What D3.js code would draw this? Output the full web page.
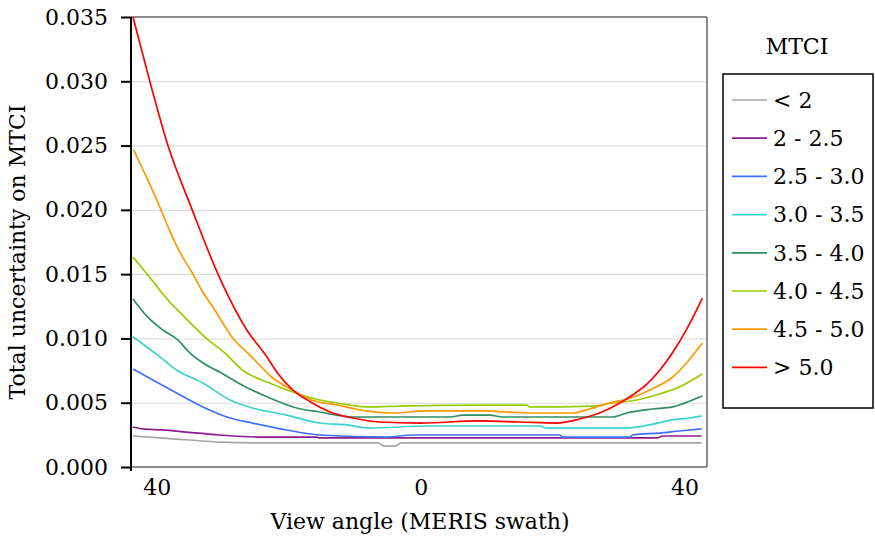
<!DOCTYPE html>
<html>
<head>
<script src="https://d3js.org/d3.v7.min.js"></script>
<title>MTCI uncertainty vs view angle</title>
<style>
	body { margin:0; background:white; }
	svg text { font-family: "DejaVu Serif", serif; fill:#000; }
	.grid line { stroke:#d9d9d9; stroke-width:1; }
	.grid path { display:none; }
</style>
</head>
<body>
<div id="chart"></div>
<script>
// legend labels and colours
var classes = ["< 2", "2 - 2.5", "2.5 - 3.0", "3.0 - 3.5", "3.5 - 4.0", "4.0 - 4.5", "4.5 - 5.0", "> 5.0"];
var colors  = ["#a6a6a6", "#8e1b8e", "#3f6fff", "#3fd0d0", "#2f8f62", "#99cc00", "#ff9a00", "#ff0000"];

// [view angle (deg, negative = left of swath), uncertainty]
var lt2 = [[-43.6,0.00241],[-39.5,0.00226],[-35.0,0.00210],[-30.5,0.00194],[-23.3,0.00187],[-6.5,0.00187],[-5.5,0.00163],[-3.9,0.00163],[-2.9,0.00187],[42.6,0.00187]];
var c2_25 = [[-43.6,0.00311],[-42.1,0.00296],[-39.1,0.00288],[-35.5,0.00272],[-30.5,0.00249],[-24.4,0.00233],[-15.8,0.00233],[-15.3,0.00226],[35.8,0.00226],[36.7,0.00241],[42.6,0.00241]];
var c25_30 = [[-43.6,0.00762],[-40.6,0.00677],[-37.0,0.00576],[-33.0,0.00467],[-28.9,0.00381],[-25.5,0.00342],[-20.3,0.00288],[-15.3,0.00249],[-5.2,0.00233],[-1.2,0.00249],[21.1,0.00249],[21.5,0.00233],[31.7,0.00233],[32.1,0.00249],[36.2,0.00264],[39.2,0.00280],[42.6,0.00296]];
var c30_35 = [[-43.6,0.01011],[-39.5,0.00856],[-37.0,0.00754],[-33.0,0.00653],[-28.9,0.00521],[-25.5,0.00459],[-20.3,0.00404],[-15.3,0.00342],[-11.2,0.00327],[-7.7,0.00303],[0.9,0.00319],[18.0,0.00319],[19.1,0.00303],[31.2,0.00303],[35.2,0.00334],[38.2,0.00366],[40.8,0.00381],[42.6,0.00397]];
var c35_40 = [[-43.6,0.01307],[-41.4,0.01167],[-39.1,0.01066],[-36.8,0.00988],[-35.0,0.00887],[-33.0,0.00809],[-30.2,0.00731],[-27.1,0.00638],[-23.2,0.00544],[-18.8,0.00459],[-15.3,0.00428],[-10.3,0.00389],[4.5,0.00389],[6.4,0.00404],[10.5,0.00404],[12.4,0.00389],[29.1,0.00389],[31.2,0.00420],[35.2,0.00451],[38.2,0.00467],[41.2,0.00521],[42.7,0.00552]];
var c40_45 = [[-43.6,0.01633],[-41.1,0.01478],[-38.3,0.01299],[-35.8,0.01167],[-32.7,0.01011],[-29.7,0.00887],[-27.0,0.00754],[-22.9,0.00653],[-19.4,0.00583],[-15.3,0.00521],[-12.7,0.00498],[-7.7,0.00467],[-3.2,0.00474],[8.9,0.00482],[16.1,0.00482],[16.5,0.00467],[26.1,0.00474],[29.1,0.00498],[32.7,0.00521],[36.2,0.00568],[39.2,0.00622],[42.7,0.00723]];
var c45_50 = [[-43.5,0.02466],[-40.0,0.02077],[-38.3,0.01870],[-36.8,0.01700],[-34.7,0.01517],[-33.2,0.01377],[-31.2,0.01221],[-28.6,0.01011],[-25.6,0.00856],[-22.6,0.00700],[-19.5,0.00599],[-16.5,0.00521],[-12.7,0.00482],[-8.2,0.00436],[-4.2,0.00420],[0.9,0.00436],[8.9,0.00436],[16.5,0.00420],[23.0,0.00420],[25.6,0.00451],[28.6,0.00498],[32.1,0.00540],[35.2,0.00610],[38.2,0.00700],[40.3,0.00809],[42.7,0.00964]];
var gt5 = [[-43.6,0.0350],[-41.1,0.0301],[-38.3,0.0250],[-34.7,0.0201],[-30.8,0.0151],[-26.4,0.0107],[-23.3,0.00856],[-21.7,0.00731],[-19.4,0.00600],[-16.8,0.00510],[-13.3,0.00420],[-10.3,0.00381],[-6.2,0.00350],[0,0.00342],[8.9,0.00358],[15.0,0.00350],[20.6,0.00342],[24.1,0.00373],[27.1,0.00420],[30.2,0.00498],[32.1,0.00560],[34.2,0.00640],[36.2,0.00750],[38.2,0.00890],[40.3,0.01070],[42.7,0.01314]];
var series = [lt2, c2_25, c25_30, c30_35, c35_40, c40_45, c45_50, gt5];

var yTicks = [0, 0.005, 0.010, 0.015, 0.020, 0.025, 0.030, 0.035];
var xTicks = [-40, 0, 40];

var W = 875, H = 540;
var pLeft = 131, pRight = 707, pTop = 17, pBottom = 467;
var fs = 22;

var svg = d3.select("#chart").append("svg")
	.attr("width", W)
	.attr("height", H);

var x = d3.scaleLinear().domain([-43.9, 43.4]).range([pLeft, pRight]);
var y = d3.scaleLinear().domain([0, 0.035]).range([pBottom, pTop]);

// gridlines
svg.append("g")
	.attr("class", "grid")
	.attr("transform", "translate(" + pLeft + ",0)")
	.call(d3.axisLeft(y).tickValues(yTicks.slice(1, -1)).tickSize(-(pRight - pLeft)).tickFormat(""));

// plot frame: grey top/right/bottom, black left axis
svg.append("line").attr("x1", pLeft).attr("x2", pRight).attr("y1", pTop).attr("y2", pTop)
	.attr("stroke", "#8c8c8c").attr("stroke-width", 2);
svg.append("line").attr("x1", pRight).attr("x2", pRight).attr("y1", pTop).attr("y2", pBottom)
	.attr("stroke", "#8c8c8c").attr("stroke-width", 2);
svg.append("line").attr("x1", pLeft).attr("x2", pRight).attr("y1", pBottom).attr("y2", pBottom)
	.attr("stroke", "#8c8c8c").attr("stroke-width", 2);

// lines
var line = d3.line()
	.curve(d3.curveMonotoneX)
	.x(function(d) { return x(d[0]); })
	.y(function(d) { return y(d[1]); });

svg.selectAll("path.series")
	.data(series)
	.enter()
	.append("path")
	.attr("class", "series")
	.attr("d", line)
	.attr("fill", "none")
	.attr("stroke", function(d, i) { return colors[i]; })
	.attr("stroke-width", 1.7);

// y axis
var yaxis = svg.append("g")
	.attr("transform", "translate(" + pLeft + ",0)")
	.call(d3.axisLeft(y).tickValues(yTicks).tickSize(10).tickPadding(13).tickFormat(d3.format(".3f")));
yaxis.attr("font-family", null).attr("font-size", fs);
yaxis.select(".domain").attr("stroke", "#000").attr("stroke-width", 2)
	.attr("d", "M0," + pTop + "V" + (pBottom + 4));
yaxis.selectAll(".tick line").attr("stroke", "#000").attr("stroke-width", 2);

// x axis labels only (no ticks)
var xaxis = svg.append("g")
	.attr("transform", "translate(0," + pBottom + ")")
	.call(d3.axisBottom(x).tickValues(xTicks).tickSize(0).tickPadding(12)
		.tickFormat(function(d) { return Math.abs(d); }));
xaxis.attr("font-family", null).attr("font-size", fs);
xaxis.select(".domain").remove();

// axis titles
svg.append("text")
	.attr("x", 420)
	.attr("y", 529)
	.attr("text-anchor", "middle")
	.attr("font-size", fs)
	.text("View angle (MERIS swath)");

svg.append("text")
	.attr("transform", "translate(25," + 252 + ") rotate(-90)")
	.attr("text-anchor", "middle")
	.attr("font-size", fs)
	.text("Total uncertainty on MTCI");

// legend
svg.append("text")
	.attr("x", 797)
	.attr("y", 54)
	.attr("text-anchor", "middle")
	.attr("font-size", fs)
	.text("MTCI");

svg.append("rect")
	.attr("x", 723).attr("y", 74)
	.attr("width", 150).attr("height", 334)
	.attr("fill", "white").attr("stroke", "#000").attr("stroke-width", 1.5);

var leg = svg.selectAll("g.leg")
	.data(classes)
	.enter()
	.append("g")
	.attr("class", "leg")
	.attr("transform", function(d, i) { return "translate(0," + (100 + i * 38.2) + ")"; });

leg.append("line")
	.attr("x1", 732).attr("x2", 767)
	.attr("stroke", function(d, i) { return colors[i]; })
	.attr("stroke-width", 1.7);

leg.append("text")
	.attr("x", 773)
	.attr("dy", "0.35em")
	.attr("font-size", fs)
	.text(function(d) { return d; });
</script>
</body>
</html>
